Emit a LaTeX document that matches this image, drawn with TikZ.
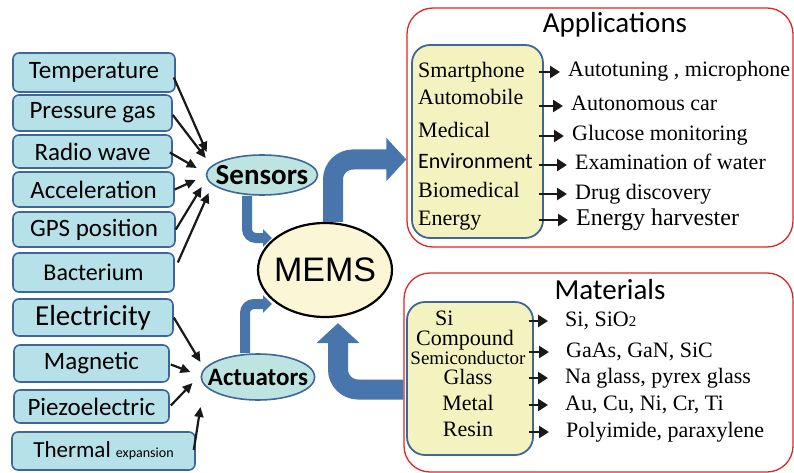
\documentclass[tikz,border=0pt]{standalone}
\usepackage{fontspec}
\setmainfont{Liberation Serif}
\newfontfamily\calibfont{Carlito}
\newfontfamily\arialfont{Liberation Sans}
\usetikzlibrary{arrows.meta, positioning}
\usetikzlibrary{shapes.geometric}

\definecolor{boxblue}{RGB}{183,225,232}
\definecolor{edgeblue}{RGB}{62,102,150}
\definecolor{ovalcyan}{RGB}{190,228,226}
\definecolor{flowblue}{RGB}{72,118,172}
\definecolor{memsyellow}{RGB}{250,246,214}
\definecolor{listyellow}{RGB}{244,243,192}
\definecolor{panelred}{RGB}{228,36,36}
\newcommand{\setfs}[1]{\fontsize{#1}{#1}\selectfont}

\begin{document}
\begin{tikzpicture}[
			x=1pt, y=-1pt,
			input/.style={rectangle, rounded corners=6pt, draw=edgeblue, fill=boxblue, line width=1.6pt, inner sep=0pt, font=\calibfont\setfs{25}},
			oval/.style={ellipse, draw=edgeblue, fill=ovalcyan, line width=1.6pt, inner xsep=-10pt, inner ysep=-3pt, font=\calibfont\bfseries\setfs{29}},
			feed/.style={-{Triangle[length=10pt,width=9pt]}, line width=2.2pt, black!90},
			flow/.style={draw=flowblue, line width=20pt, rounded corners=20pt, -{Triangle[length=20pt,width=42pt]}},
			thinflow/.style={draw=flowblue, line width=10pt, rounded corners=9pt, -{Triangle[length=9pt,width=17pt]}},
			panel/.style={rectangle, rounded corners=26pt, draw=panelred, line width=1.3pt, inner sep=0pt},
			list/.style={rectangle, rounded corners=18pt, draw=edgeblue, fill=listyellow, line width=1.8pt, inner sep=0pt},
			item/.style={inner sep=0pt, text height=15pt, text depth=5pt, font=\setfs{22}},
			pointer/.style={-{Triangle[length=10pt,width=12pt]}, line width=2.8pt, black!90}
			]
			\useasboundingbox (0,0) rectangle (794,473);
			
			% ---------------- INPUTS ----------------
			\node[input, minimum width=162pt, minimum height=39pt] (temp) at (94,72.5) {Temperature};
			\node[input, minimum width=159pt, minimum height=36pt] (press) at (92.5,113) {Pressure gas};
			\node[input, minimum width=159pt, minimum height=33pt] (radio) at (92.5,151.5) {Radio wave};
			\node[input, minimum width=161pt, minimum height=35pt] (accel) at (93.5,189.5) {Acceleration};
			\node[input, minimum width=162pt, minimum height=35pt] (gps) at (94,229.5) {GPS position};
			\node[input, minimum width=161pt, minimum height=39pt, font=\calibfont\setfs{24}] (bact) at (93.5,272.5) {Bacterium};
			\node[input, minimum width=160pt, minimum height=37pt, font=\calibfont\setfs{29}] (elec) at (93,317.5) {Electricity};
			\node[input, minimum width=155pt, minimum height=37pt] (magn) at (91.5,363.5) {Magnetic};
			\node[input, minimum width=155pt, minimum height=33pt] (piezo) at (91.5,406.5) {Piezoelectric};
			\node[input, minimum width=183pt, minimum height=38pt, font=\calibfont\setfs{23}] (therm) at (103.5,451) {Thermal {\setfs{14}expansion}};
			
			% ---------------- CENTRE ----------------
			\node[oval, minimum width=111pt, minimum height=40pt] (sens) at (262,175) {Sensors};
			\node[oval, minimum width=110pt, minimum height=46pt, font=\calibfont\bfseries\setfs{25}] (act) at (258,377) {Actuators};
			\node[ellipse, draw=black, fill=memsyellow, line width=2.2pt, inner xsep=-14pt, inner ysep=-2pt, minimum width=134pt, minimum height=94pt, font=\arialfont\setfs{34}] (mems) at (325,270) {MEMS};
			
			\draw[feed] ([shift={(-2,5)}]temp.east) -- ([shift={(1,-23)}]sens.west);
			\draw[feed] ([shift={(0,2)}]press.east) -- ([shift={(0,-17)}]sens.west);
			\draw[feed] ([shift={(-3,1)}]radio.east) -- ([shift={(-9,-7)}]sens.west);
			\draw[feed] (accel.east) -- ([shift={(-10,5)}]sens.west);
			\draw[feed] (gps.east) -- ([shift={(-4,12)}]sens.west);
			\draw[feed] ([shift={(3,-10)}]bact.east) -- ([shift={(3,18)}]sens.west);
			
			\draw[feed] (elec.east) -- ([shift={(0,-15)}]act.west);
			\draw[feed] ([shift={(1,1)}]magn.east) -- ([shift={(-10,-5)}]act.west);
			\draw[feed] ([shift={(1,-1)}]piezo.east) -- ([shift={(-8,6)}]act.west);
			\draw[feed] ([shift={(-2,-1)}]therm.east) -- ([shift={(0,30)}]act.west);
			
			% ---------------- APPLICATIONS ----------------
			\node[panel, minimum width=386pt, minimum height=239pt] (apps) at (600,127.5) {};
			\node[font=\calibfont\setfs{29}] (appstitle) at (615,25) {Applications};
			\node[list, minimum width=131pt, minimum height=193pt] (appbox) at (477.5,141.5) {};
			
			\node[item, anchor=west] (a1) at (418,73) {Smartphone};
			\node[item, anchor=west] (a2) at (418,100) {Automobile};
			\node[item, anchor=west] (a3) at (418,133) {Medical};
			\node[item, anchor=west, font=\calibfont\setfs{22}] (a4) at (418,163) {Environment};
			\node[item, anchor=west] (a5) at (418,192) {Biomedical};
			\node[item, anchor=west] (a6) at (418,220) {Energy};
			
			\node[item, anchor=west] (u1) at (568,72) {Autotuning , microphone};
			\node[item, anchor=west] (u2) at (571,106) {Autonomous car};
			\node[item, anchor=west] (u3) at (572,136) {Glucose monitoring};
			\node[item, anchor=west] (u4) at (575,165) {Examination of water};
			\node[item, anchor=west] (u5) at (575,194) {Drug discovery};
			\node[item, anchor=west, font=\setfs{24}] (u6) at (576,220) {Energy harvester};
			
			\foreach \k in {1,...,6}
			\draw[pointer, shorten <=-5pt, shorten >=8pt] (appbox.east |- u\k) -- (u\k.west);
			
			% ---------------- MATERIALS ----------------
			\node[panel, minimum width=389pt, minimum height=199pt] (mats) at (598.5,372.5) {};
			\node[font=\calibfont\setfs{29}] (matstitle) at (610,290) {Materials};
			\node[list, minimum width=126pt, minimum height=153pt] (matbox) at (470,378.5) {};
			
			\node[item, anchor=west] (s1) at (435,320) {Si};
			\node[item] (s2) at (465,340) {Compound};
			\node[item, font=\setfs{19}] (s3) at (468,359) {Semiconductor};
			\node[item] (s4) at (468,379) {Glass};
			\node[item] (s5) at (468,405) {Metal};
			\node[item] (s6) at (468,431) {Resin};
			
			\node[item, anchor=west] (m1) at (565,321) {Si, SiO{\setfs{15}2}};
			\node[item, anchor=west] (m2) at (566,352) {GaAs, GaN, SiC};
			\node[item, anchor=west] (m3) at (565,378) {Na glass, pyrex glass};
			\node[item, anchor=west] (m4) at (565,405) {Au, Cu, Ni, Cr, Ti};
			\node[item, anchor=west] (m5) at (566,432) {Polyimide, paraxylene};
			
			\foreach \k in {1,...,5}
			\draw[pointer, shorten <=-5pt, shorten >=17pt] (matbox.east |- m\k) -- (m\k.west);
			
			% ---------------- FLOWS ----------------
			\draw[thinflow] ([xshift=-15pt]sens.south) |- ([shift={(-53,-32)}]mems.center);
			\draw[thinflow] ([xshift=-13pt]act.north) |- ([shift={(-53,34)}]mems.center);
			\draw[flow] ([xshift=8pt]mems.north) |- ([shift={(0,32)}]apps.west);
			\draw[flow] ([shift={(0,17)}]mats.west) -| ([shift={(13,5)}]mems.south);
			
		\end{tikzpicture}
\end{document}
